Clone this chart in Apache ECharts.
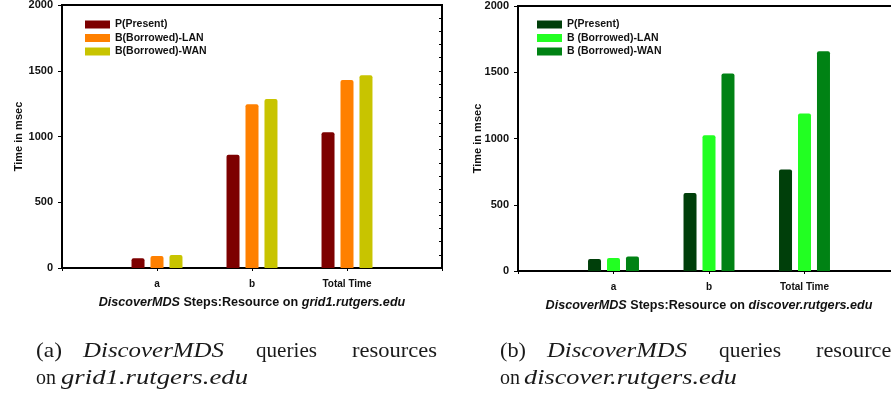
<!DOCTYPE html>
<html>
<head>
<meta charset="utf-8">
<script src="https://cdn.jsdelivr.net/npm/echarts@6/dist/echarts.min.js"></script>
<style>html,body{margin:0;padding:0;background:#fff;}#c{width:891px;height:400px;}</style>
</head>
<body>
<div id="c"></div>
<script>
// ---- data ----
var categories = ['a', 'b', 'Total Time'];
var seriesNamesA = ['P(Present)', 'B(Borrowed)-LAN', 'B(Borrowed)-WAN'];
var seriesNamesB = ['P(Present) ', 'B (Borrowed)-LAN', 'B (Borrowed)-WAN'];
var gridA_present = [74, 862, 1032];
var gridA_lan = [92, 1245, 1430];
var gridA_wan = [99, 1285, 1465];
var gridB_present = [91, 589, 766];
var gridB_lan = [98, 1025, 1189];
var gridB_wan = [109, 1491, 1658];
var yTicks = { min: 0, max: 2000, interval: 500 };
var colorsA = ['#7d0000', '#ff8000', '#c8c400'];
var colorsB = ['#003f0a', '#22ff22', '#008214'];

// padded category axis (bars sit on ticks, empty slots at both ends)
var cats = [''].concat(categories).concat(['']);
function pad(v) { return [null].concat(v).concat([null]); }

var chart = echarts.init(document.getElementById('c'), null, { renderer: 'canvas' });
var sans = 'Liberation Sans';
var serif = 'Liberation Serif';

function yAxesFor(g, nameGap, labelMargin) {
  var base = { gridIndex: g, type: 'value', min: yTicks.min, max: yTicks.max, interval: yTicks.interval, splitLine: { show: false } };
  return [
    Object.assign({}, base, {
      name: 'Time in msec', nameLocation: 'middle', nameGap: nameGap, nameRotate: 90, nameMoveOverlap: false,
      nameTextStyle: { fontFamily: sans, fontWeight: 'bold', fontSize: 11, color: '#111' },
      axisLine: { show: true, lineStyle: { color: '#000', width: 2 } },
      axisTick: { show: true, inside: false, length: 4, lineStyle: { color: '#000' } },
      axisLabel: { fontFamily: sans, fontWeight: 'bold', fontSize: 11, color: '#111', margin: labelMargin,
                   formatter: function (v) { return String(v); } }
    }),
    Object.assign({}, base, {
      axisLine: { show: false }, axisLabel: { show: false },
      axisTick: { show: false, inside: true },
      minorTick: { show: true, splitNumber: 5, length: 3, lineStyle: { color: '#000' } }
    }),
    Object.assign({}, base, {
      position: 'right',
      axisLine: { show: false }, axisLabel: { show: false },
      axisTick: { show: true, inside: true, length: 3, lineStyle: { color: '#000' } },
      minorTick: { show: true, splitNumber: 5, length: 3, lineStyle: { color: '#000' } }
    })
  ];
}

function xAxisFor(g, host, fs) {
  return {
    gridIndex: g, type: 'category', data: cats, boundaryGap: false,
    name: '{i|DiscoverMDS} Steps:Resource on {i|' + host + '}',
    nameLocation: 'middle', nameGap: 28,
    nameTextStyle: {
      fontFamily: sans, fontWeight: 'bold', fontSize: fs, color: '#111',
      rich: { i: { fontFamily: sans, fontWeight: 'bold', fontStyle: 'italic', fontSize: fs, color: '#111' } }
    },
    axisLine: { show: true, lineStyle: { color: '#000', width: 2 } },
    axisTick: { show: true, length: 3, alignWithLabel: true, lineStyle: { color: '#000' } },
    axisLabel: { fontFamily: sans, fontWeight: 'bold', fontSize: 10, color: '#111', margin: 11, interval: 0 }
  };
}

function barSeries(name, data, color, xi, yi) {
  return {
    type: 'bar', name: name, data: pad(data), xAxisIndex: xi, yAxisIndex: yi,
    barWidth: 13, barGap: '46%',
    itemStyle: { color: color, borderRadius: [2, 2, 0, 0] }
  };
}

// caption words: [text, left x, right x, line, italic]
var capA = [['(a)', 36, 62, 0, false], ['DiscoverMDS', 83, 224, 0, true], ['queries', 256, 317, 0, false], ['resources', 352, 437, 0, false],
            ['on', 36, 56, 1, false], ['grid1.rutgers.edu', 61, 248, 1, true]];
var capB = [['(b)', 500, 526, 0, false], ['DiscoverMDS', 547, 687, 0, true], ['queries', 719, 781, 0, false], ['resources', 816, 900, 0, false],
            ['on', 500, 520, 1, false], ['discover.rutgers.edu', 524, 737, 1, true]];
var mctx = document.createElement('canvas').getContext('2d');
var capSize = 21;
var graphics = capA.concat(capB).map(function (w) {
  var font = (w[4] ? 'italic ' : '') + capSize + 'px "' + serif + '"';
  mctx.font = font;
  var mw = mctx.measureText(w[0]).width || 1;
  return {
    type: 'text', x: w[1], y: w[3] === 0 ? 341 : 368,
    scaleX: Math.max(0.92, (w[2] - w[1]) / mw),
    style: { text: w[0], fontFamily: serif, fontSize: capSize, fontStyle: w[4] ? 'italic' : 'normal', fill: '#1a1a1a',
             verticalAlign: 'top', align: 'left' }
  };
});

var legendText = { fontFamily: sans, fontWeight: 'bold', fontSize: 10.5, color: '#111' };
var option = {
  animation: false,
  backgroundColor: '#fff',
  grid: [
    { left: 62, top: 5, width: 380, height: 263, show: true, borderColor: '#000', borderWidth: 2, backgroundColor: 'transparent', outerBoundsMode: 'none' },
    { left: 518, top: 6, width: 382, height: 265, show: true, borderColor: '#000', borderWidth: 2, backgroundColor: 'transparent', outerBoundsMode: 'none' }
  ],
  legend: [
    { data: seriesNamesA, orient: 'vertical', left: 85, top: 19, padding: 0, itemWidth: 25, itemHeight: 8, itemGap: 2.5,
      icon: 'rect', textStyle: legendText },
    { data: seriesNamesB, orient: 'vertical', left: 537, top: 19, padding: 0, itemWidth: 25, itemHeight: 8, itemGap: 2.5,
      icon: 'rect', textStyle: legendText }
  ],
  xAxis: [xAxisFor(0, 'grid1.rutgers.edu', 12.6), xAxisFor(1, 'discover.rutgers.edu', 12.6)],
  yAxis: yAxesFor(0, 38, 9).concat(yAxesFor(1, 35, 9)),
  series: [
    barSeries(seriesNamesA[0], gridA_present, colorsA[0], 0, 0),
    barSeries(seriesNamesA[1], gridA_lan, colorsA[1], 0, 0),
    barSeries(seriesNamesA[2], gridA_wan, colorsA[2], 0, 0),
    barSeries(seriesNamesB[0], gridB_present, colorsB[0], 1, 3),
    barSeries(seriesNamesB[1], gridB_lan, colorsB[1], 1, 3),
    barSeries(seriesNamesB[2], gridB_wan, colorsB[2], 1, 3)
  ],
  graphic: graphics
};
chart.setOption(option);
</script>
</body>
</html>
